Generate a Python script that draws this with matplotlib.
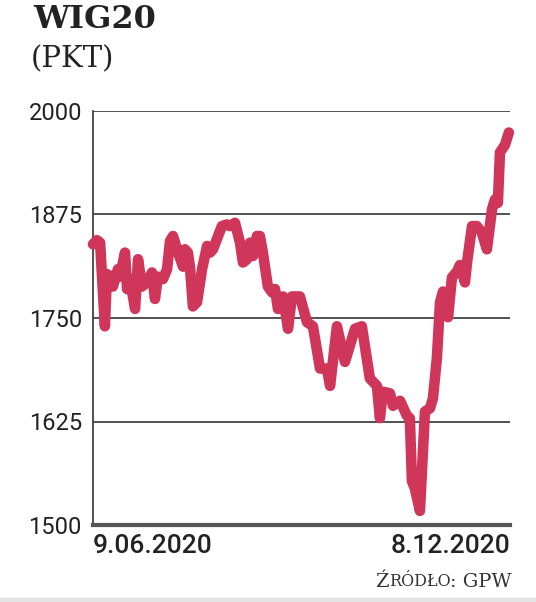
from matplotlib import pyplot as plt
from matplotlib.patches import Rectangle

# WIG20 close; day = days since 9.06.2020
days = [
    0.0, 1.7, 3.1, 5.2, 6.1, 7.9, 8.7, 10.9, 11.8, 14.0,
    14.9, 16.2, 18.4, 19.7, 21.4, 23.6, 25.8, 27.1, 28.4, 30.6,
    32.4, 33.7, 35.0, 37.2, 39.4, 40.2, 41.5, 42.4, 43.7, 45.5,
    47.7, 49.9, 51.2, 52.5, 54.7, 56.4, 58.6, 59.9, 62.1, 64.3,
    65.6, 67.4, 68.7, 70.0, 71.7, 73.0, 74.3, 76.5, 78.3, 79.6,
    80.9, 83.1, 85.3, 87.0, 90.5, 93.6, 96.2, 99.3, 102.3, 103.7,
    106.7, 110.2, 114.6, 117.6, 121.1, 124.2, 125.5, 126.8, 129.9, 131.2,
    134.3, 137.3, 138.6, 139.5, 140.8, 143.0, 145.2, 147.4, 148.7, 150.4,
    151.8, 153.1, 155.3, 157.0, 159.2, 160.5, 162.7, 163.6, 165.8, 167.9,
    170.1, 172.3, 174.5, 175.8, 177.1, 178.0, 180.2, 181.9,
]
wig20 = [
    1839, 1844, 1841, 1740, 1803, 1800, 1788, 1809, 1800, 1829,
    1785, 1797, 1761, 1821, 1788, 1793, 1805, 1773, 1800, 1797,
    1809, 1843, 1849, 1829, 1812, 1833, 1829, 1812, 1764, 1769,
    1809, 1837, 1829, 1833, 1849, 1861, 1863, 1861, 1865, 1841,
    1817, 1821, 1841, 1825, 1849, 1849, 1829, 1788, 1781, 1785,
    1761, 1776, 1737, 1776, 1776, 1745, 1740, 1689, 1689, 1668,
    1740, 1697, 1737, 1740, 1677, 1668, 1629, 1661, 1659, 1644,
    1650, 1632, 1629, 1553, 1544, 1517, 1637, 1641, 1653, 1701,
    1769, 1782, 1751, 1799, 1806, 1814, 1793, 1817, 1861, 1861,
    1853, 1833, 1881, 1893, 1889, 1950, 1959, 1974,
]
y_ticks = [1500, 1625, 1750, 1875, 2000]
date_labels = ["9.06.2020", "8.12.2020"]

W, H = 536, 602
LINE_COLOR = "#cf3659"


def main() -> None:
    fig = plt.figure(figsize=(W / 100, H / 100), dpi=100)
    ax = fig.add_axes([93 / W, 1 - 525 / H, (510 - 93) / W, (525 - 111) / H])

    ax.plot(days, wig20, color=LINE_COLOR, linewidth=7.6,
            solid_joinstyle="round", solid_capstyle="round", zorder=3, clip_on=False)

    ax.set_xlim(0, 182.4)
    ax.set_ylim(1500, 2000)
    ax.set_yticks(y_ticks)
    ax.set_yticklabels([str(v) for v in y_ticks], fontfamily="Roboto",
                       fontsize=17, color="#222222")
    ax.set_xticks([])
    ax.tick_params(axis="y", length=0, pad=8)
    ax.grid(axis="y", color="#333333", linewidth=1.2)
    ax.set_axisbelow(True)

    for side in ("top", "right"):
        ax.spines[side].set_visible(False)
    ax.spines["left"].set_color("#333333")
    ax.spines["left"].set_linewidth(1.2)
    ax.spines["bottom"].set_color("#555555")
    ax.spines["bottom"].set_linewidth(3)

    # date labels under the axis
    fig.text(93 / W, 1 - 546 / H, date_labels[0], ha="left", va="center",
             fontfamily="Roboto", fontweight="medium", fontsize=19, color="#222222")
    fig.text(510 / W, 1 - 546 / H, date_labels[1], ha="right", va="center",
             fontfamily="Roboto", fontweight="medium", fontsize=19, color="#222222")

    # title and unit
    fig.text(33 / W, 1 - 20 / H, "WIG20", ha="left", va="center",
             fontfamily="DejaVu Serif", fontweight="bold", fontsize=23, color="#222222")
    fig.text(31 / W, 1 - 59 / H, "(PKT)", ha="left", va="center",
             fontfamily="DejaVu Serif", fontsize=21, color="#222222")

    # source line, small caps imitation
    src_kw = dict(fontfamily="DejaVu Serif", color="#333333")
    t3 = fig.text(512 / W, 1 - 591 / H, ": GPW", ha="right", va="bottom",
                  fontsize=14, **src_kw)
    t2 = fig.text(0, 0, "RÓDŁO", ha="right", va="bottom", fontsize=11.5,
                  transform=t3.get_transform(), **src_kw)
    fig.canvas.draw()
    bb3 = t3.get_window_extent()
    t2.set_position((bb3.x0 / W, bb3.y0 / H + 0.0015))
    fig.canvas.draw()
    bb2 = t2.get_window_extent()
    fig.text(bb2.x0 / W, bb3.y0 / H, "Ź", ha="right", va="bottom",
             fontsize=14, **src_kw)

    fig.patches.append(Rectangle((0, 0), 1, 4 / H, transform=fig.transFigure,
                                 color="#e4e4e4", zorder=0))

    fig.savefig("out.png", dpi=100, facecolor="white")
    plt.close(fig)


if __name__ == "__main__":
    main()
